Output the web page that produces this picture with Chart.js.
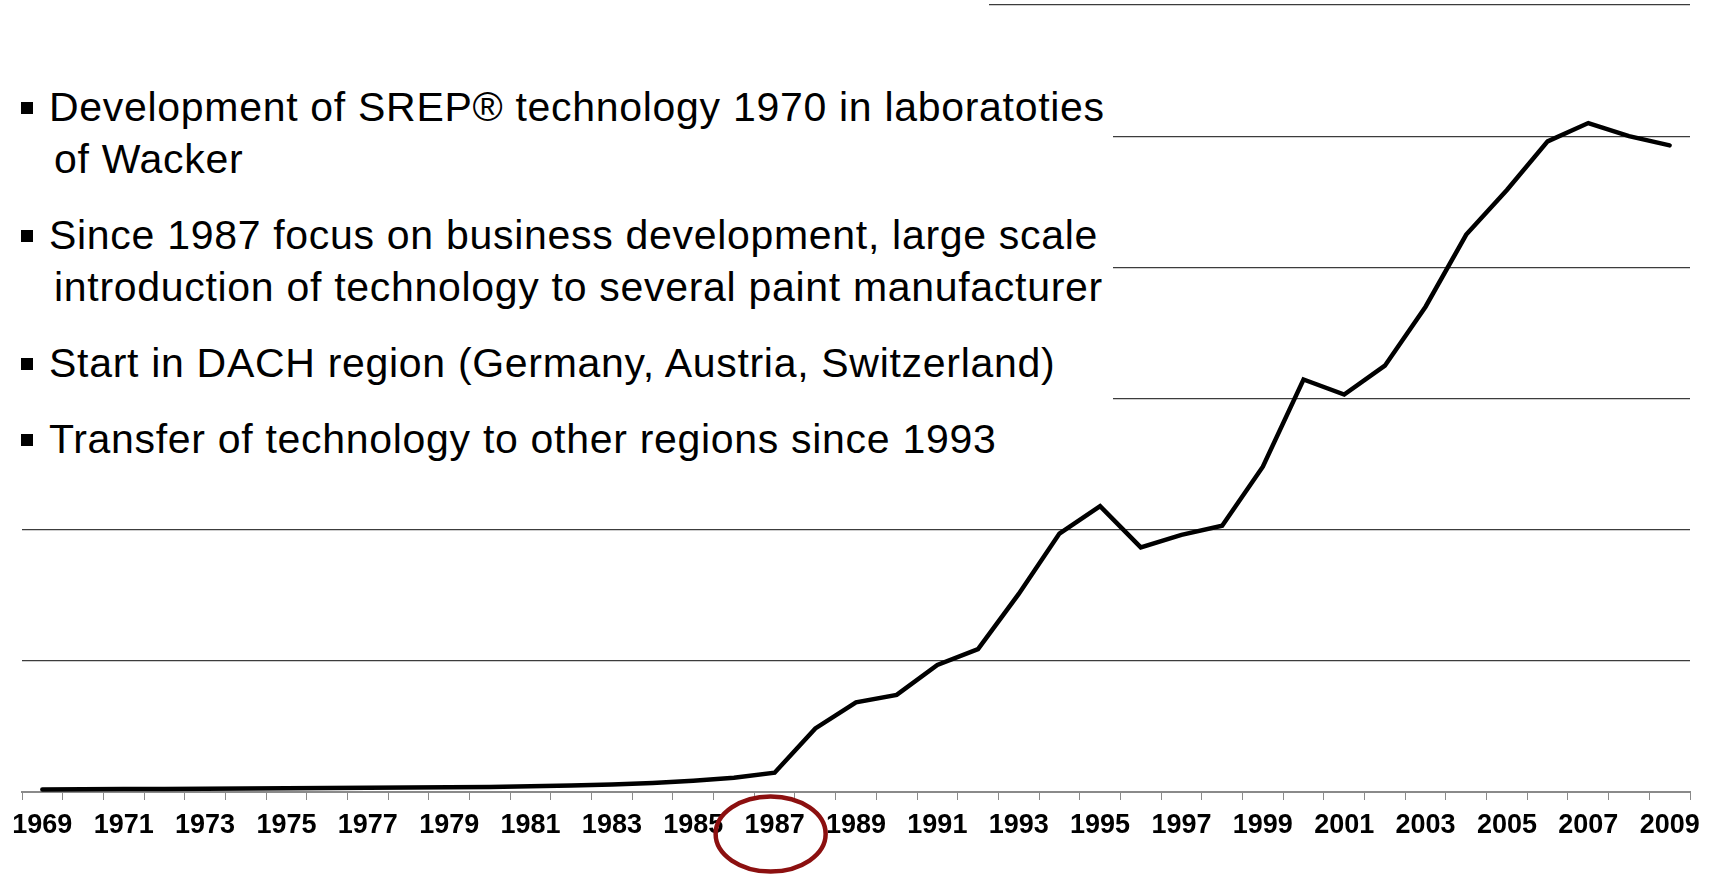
<!DOCTYPE html>
<html>
<head>
<meta charset="utf-8">
<script src="https://cdn.jsdelivr.net/npm/chart.js@4.4.1/dist/chart.umd.min.js"></script>
<style>
  html, body { margin: 0; padding: 0; background: #fff; overflow: hidden; }
  #wrap { position: relative; width: 1711px; height: 875px; }
  #chart { position: absolute; left: 0; top: 0; }
  .cover { position: absolute; background: #fff; }
  #topCover { left: 0; top: 0; width: 989px; height: 30px; }
  #textBox { left: 0; top: 30px; width: 1113px; height: 450px; padding-top: 51px; box-sizing: border-box; }
  .bullet {
    position: relative;
    margin: 0 0 24px 0;
    padding-left: 54px;
    text-indent: -5px;
    font-family: "Liberation Sans", Arial, sans-serif;
    font-size: 41px;
    letter-spacing: 0.7px;
    line-height: 52px;
    color: #000;
    white-space: nowrap;
  }
  .bullet::before {
    content: "";
    position: absolute;
    left: 21px;
    top: 21px;
    width: 12px;
    height: 12px;
    background: #000;
  }
</style>
</head>
<body>
<div id="wrap">
  <canvas id="chart" width="1711" height="875"></canvas>
  <div class="cover" id="topCover"></div>
  <div class="cover" id="textBox">
    <div class="bullet">Development of SREP® technology 1970 in laboratoties<br>of Wacker</div>
    <div class="bullet">Since 1987 focus on business development, large scale<br>introduction of technology to several paint manufacturer</div>
    <div class="bullet">Start in DACH region (Germany, Austria, Switzerland)</div>
    <div class="bullet">Transfer of technology to other regions since 1993</div>
  </div>
</div>
<script>
const years = ['1969','1970','1971','1972','1973','1974','1975','1976','1977','1978',
  '1979','1980','1981','1982','1983','1984','1985','1986','1987','1988',
  '1989','1990','1991','1992','1993','1994','1995','1996','1997','1998',
  '1999','2000','2001','2002','2003','2004','2005','2006','2007','2008','2009'];

// one gridline = 1 unit
const volume = [0.020, 0.021, 0.022, 0.023, 0.025, 0.026, 0.028, 0.030, 0.032, 0.034,
  0.036, 0.039, 0.043, 0.049, 0.057, 0.068, 0.085, 0.108, 0.147, 0.485,
  0.684, 0.740, 0.968, 1.090, 1.510, 1.970, 2.180, 1.865, 1.960, 2.030,
  2.480, 3.145, 3.030, 3.250, 3.700, 4.250, 4.590, 4.960, 5.100, 5.000, 4.930];

const shownYears = ['1969','1971','1973','1975','1977','1979','1981','1983','1985','1987',
  '1989','1991','1993','1995','1997','1999','2001','2003','2005','2007','2009'];

const yTicks = [0, 1, 2, 3, 4, 5, 6];
const markedYear = '1987';

const ringPlugin = {
  id: 'ring',
  afterDraw(chart){
    const xs = chart.scales.x;
    const ctx = chart.ctx;
    const cx = xs.getPixelForValue(years.indexOf(markedYear)) - 4;
    const cy = xs.top + 42;
    ctx.save();
    ctx.strokeStyle = '#8c1010';
    ctx.lineWidth = 4.5;
    ctx.beginPath();
    ctx.ellipse(cx, cy, 55, 37.5, 0, 0, Math.PI * 2);
    ctx.stroke();
    ctx.restore();
  }
};

new Chart(document.getElementById('chart'), {
  type: 'line',
  data: {
    labels: years,
    datasets: [{
      data: volume,
      borderColor: '#000',
      borderWidth: 4.5,
      borderCapStyle: 'round',
      pointRadius: 0,
      tension: 0,
      fill: false
    }]
  },
  options: {
    responsive: false,
    animation: false,
    layout: { padding: { left: 22, right: 21, top: 5, bottom: 0 } },
    plugins: { legend: { display: false }, tooltip: { enabled: false } },
    scales: {
      x: {
        offset: true,
        afterFit: s => { s.height = 83; },
        grid: {
          offset: true,
          drawOnChartArea: false,
          drawTicks: true,
          tickLength: 8,
          color: '#8a8a8a',
          lineWidth: 1
        },
        border: { display: true, color: '#8a8a8a', width: 2 },
        ticks: {
          autoSkip: false,
          maxRotation: 0,
          padding: 9,
          color: '#000',
          font: { family: 'Liberation Sans', size: 27, weight: 'bold' },
          callback: function(v, i){
            const y = years[i];
            return shownYears.includes(y) ? y : '';
          }
        }
      },
      y: {
        min: yTicks[0],
        max: yTicks[yTicks.length - 1],
        afterBuildTicks: s => { s.ticks = yTicks.map(v => ({ value: v })); },
        ticks: { display: false },
        border: { display: false },
        grid: {
          drawTicks: false,
          lineWidth: 1.2,
          color: c => c.tick && c.tick.value === 0 ? 'rgba(0,0,0,0)' : '#3c3c3c'
        }
      }
    }
  },
  plugins: [ringPlugin]
});
</script>
</body>
</html>
